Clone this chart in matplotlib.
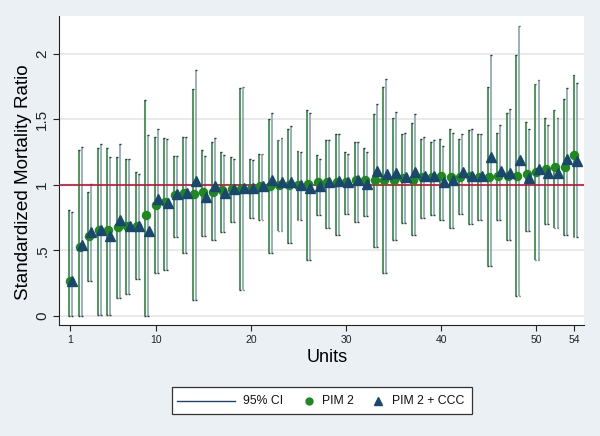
import numpy as np
import matplotlib
matplotlib.use("Agg")
import matplotlib.pyplot as plt
from matplotlib.lines import Line2D
from matplotlib.patches import Rectangle

plt.rcParams['font.family'] = ['Liberation Sans', 'DejaVu Sans']

units = np.arange(1, 55)
pim2 = [0.27, 0.53, 0.61, 0.66, 0.66, 0.68, 0.69, 0.69, 0.77, 0.85,
        0.87, 0.92, 0.94, 0.93, 0.95, 0.95, 0.96, 0.97, 0.97, 0.97,
        0.99, 0.99, 1.00, 1.00, 1.00, 1.01, 1.02, 1.02, 1.02, 1.02,
        1.04, 1.04, 1.04, 1.04, 1.04, 1.05, 1.04, 1.06, 1.06, 1.07,
        1.06, 1.06, 1.07, 1.06, 1.06, 1.07, 1.07, 1.07, 1.08, 1.10,
        1.12, 1.14, 1.14, 1.23]
pim2_ccc = [0.27, 0.54, 0.64, 0.66, 0.61, 0.73, 0.69, 0.69, 0.65, 0.89,
            0.86, 0.93, 0.94, 1.03, 0.91, 0.99, 0.94, 0.97, 0.98, 0.98,
            0.99, 1.04, 1.02, 1.02, 1.00, 0.98, 0.99, 1.02, 1.03, 1.02,
            1.04, 1.01, 1.11, 1.08, 1.09, 1.06, 1.10, 1.07, 1.07, 1.02,
            1.04, 1.10, 1.07, 1.07, 1.21, 1.11, 1.09, 1.19, 1.05, 1.12,
            1.09, 1.09, 1.20, 1.18]
ci_upper_pim2 = [0.81, 1.27, 0.95, 1.28, 1.28, 1.21, 1.20, 1.10, 1.65, 1.37,
                 1.36, 1.22, 1.37, 1.73, 1.27, 1.33, 1.25, 1.21, 1.74, 1.20,
                 1.24, 1.50, 1.34, 1.43, 1.26, 1.57, 1.23, 1.34, 1.39, 1.25,
                 1.33, 1.28, 1.54, 1.75, 1.51, 1.39, 1.47, 1.35, 1.33, 1.35,
                 1.43, 1.35, 1.42, 1.39, 1.75, 1.40, 1.55, 1.99, 1.48, 1.77,
                 1.51, 1.57, 1.66, 1.84]
ci_upper_ccc = [0.79, 1.29, 1.01, 1.31, 1.21, 1.31, 1.20, 1.08, 1.38, 1.43,
                1.35, 1.22, 1.37, 1.88, 1.22, 1.36, 1.23, 1.20, 1.75, 1.19,
                1.24, 1.55, 1.36, 1.45, 1.25, 1.55, 1.20, 1.34, 1.39, 1.24,
                1.33, 1.25, 1.62, 1.81, 1.56, 1.40, 1.54, 1.37, 1.34, 1.30,
                1.40, 1.39, 1.43, 1.39, 1.99, 1.46, 1.58, 2.21, 1.43, 1.80,
                1.46, 1.51, 1.74, 1.78]
ci_lower = [0.00, 0.00, 0.27, 0.01, 0.01, 0.14, 0.17, 0.28, 0.00, 0.33,
            0.35, 0.60, 0.48, 0.12, 0.61, 0.58, 0.64, 0.72, 0.20, 0.75,
            0.73, 0.48, 0.65, 0.56, 0.73, 0.43, 0.77, 0.67, 0.62, 0.78,
            0.72, 0.76, 0.53, 0.33, 0.58, 0.71, 0.62, 0.75, 0.77, 0.73,
            0.67, 0.78, 0.70, 0.73, 0.38, 0.73, 0.58, 0.15, 0.65, 0.43,
            0.70, 0.67, 0.62, 0.60]
xticks = [1, 10, 20, 30, 40, 50, 54]
yticks = [0, 0.5, 1, 1.5, 2]
yticklabels = ["0", ".5", "1", "1.5", "2"]
legend_labels = ["95% CI", "PIM 2", "PIM 2 + CCC"]

bg = "#eaf0f3"
green = "#1e8a1e"
navy = "#1a476f"
ci_green = "#3f8f4c"
ci_grey = "#92aab6"
cap = "#2c3e45"
W, H = 600, 436

fig = plt.figure(figsize=(6, 4.36), dpi=100, facecolor=bg)
ax = fig.add_axes([59 / W, 1 - 325 / H, 525 / W, 309 / H])
ax.set_facecolor("white")

off1 = -0.1
off2 = 0.22
capw = 0.2
ax.vlines(units + off1, ci_lower, ci_upper_pim2, color=ci_green, lw=1.3, zorder=2)
ax.vlines(units + off2, ci_lower, ci_upper_ccc, color=ci_grey, lw=1.3, zorder=2)
for arr_x, hi in ((units + off1, ci_upper_pim2), (units + off2, ci_upper_ccc)):
    ax.hlines(hi, arr_x - capw / 2, arr_x + capw / 2, color=cap, lw=1.0, zorder=3)
    ax.hlines(ci_lower, arr_x - capw / 2, arr_x + capw / 2, color=cap, lw=1.0, zorder=3)

ax.axhline(1, color="#c8102e", lw=1.2, zorder=3)
ax.plot(units, pim2, "o", color=green, ms=5.8, mec=green, zorder=4)
ax.plot(units + 0.25, pim2_ccc, "^", color=navy, ms=6.8, mec=navy, zorder=5)

ax.set_xlim(-0.16, 55.0)
ax.set_ylim(-0.069, 2.29)
ax.set_yticks(yticks)
ax.set_yticklabels(yticklabels, rotation=90, va="center", fontsize=11)
ax.set_xticks(xticks)
ax.set_xticklabels([str(t) for t in xticks], fontsize=7.5)
ax.yaxis.grid(True, color="#e6e6e6", lw=1.2)
ax.set_axisbelow(True)
for s in ("top", "right"):
    ax.spines[s].set_visible(False)
ax.spines["left"].set_color("#222222")
ax.spines["bottom"].set_color("#222222")
ax.tick_params(axis="both", colors="#222222", length=4, width=0.8)
ax.tick_params(axis="y", pad=3)
ax.set_ylabel("Standardized Mortality Ratio", fontsize=13.6)
ax.yaxis.set_label_coords(-0.052, 0.463)
ax.set_xlabel("Units", fontsize=13)
ax.xaxis.set_label_coords(0.511, -0.078)

# manual legend (figure pixel coords converted to fractions)
def fx(px):
    return px / W

def fy(py):
    return 1 - py / H

fig.patches.append(Rectangle((fx(172), fy(414)), fx(472) - fx(172), fy(387) - fy(414),
                             transform=fig.transFigure, facecolor="white",
                             edgecolor="#333333", lw=0.9, zorder=1))
ly = fy(401)
fig.add_artist(Line2D([fx(177), fx(235)], [ly, ly], color=navy, lw=1.0,
                      transform=fig.transFigure))
fig.add_artist(Line2D([fx(309)], [ly], marker="o", color=green, ms=5, ls="none",
                      transform=fig.transFigure))
fig.add_artist(Line2D([fx(378)], [ly], marker="^", color=navy, ms=5.5, ls="none",
                      transform=fig.transFigure))
for xpx, lab in zip([243, 322, 392], legend_labels):
    fig.text(fx(xpx), ly, lab, ha="left", va="center", fontsize=8.8, color="#111111")

fig.savefig("out.png", dpi=100, facecolor=bg)
